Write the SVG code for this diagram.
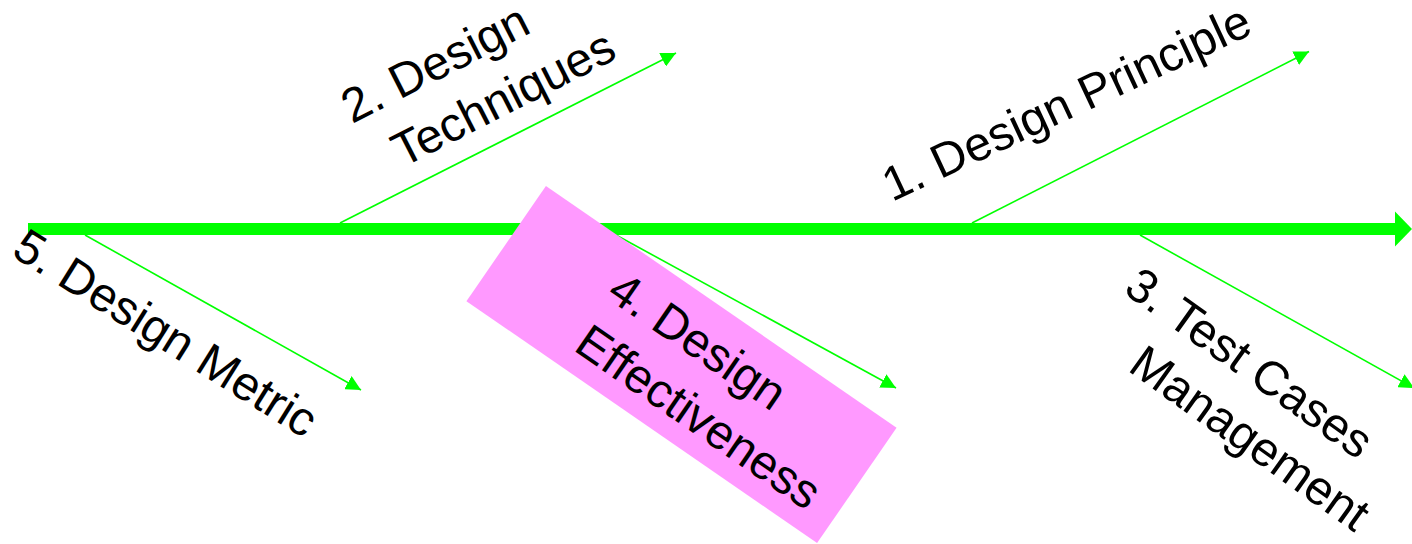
<svg xmlns="http://www.w3.org/2000/svg" width="1412" height="544" viewBox="0 0 1412 544">
  <defs>
    <marker id="head" viewBox="0 0 15 15" refX="15" refY="7.5" markerWidth="15" markerHeight="15" markerUnits="userSpaceOnUse" orient="auto">
      <path d="M0,0 L15,7.5 L0,15 z" fill="#00ff00"/>
    </marker>
    <style>
      .spine { stroke: #00ff00; stroke-width: 12; fill: none; }
      .bone { stroke: #00ff00; stroke-width: 1.6; fill: none; marker-end: url(#head); }
      .lbl { font-family: "Liberation Sans", Arial, sans-serif; font-size: 48px; fill: #000; }
      .box { fill: #ff99ff; }
    </style>
  </defs>
  <rect width="1412" height="544" fill="#ffffff"/>

  <!-- spine and branch arrows -->
  <g id="connectors">
    <line class="spine" x1="28" y1="229" x2="1396" y2="229"/>
    <polygon points="1395,211.5 1412,229 1395,246.5" fill="#00ff00"/>
    <line class="bone" x1="340" y1="223" x2="676" y2="53"/>
    <line class="bone" x1="972" y1="223" x2="1309" y2="51.5"/>
    <line class="bone" x1="85" y1="235" x2="361" y2="390"/>
    <line class="bone" x1="616" y1="235" x2="896" y2="388"/>
    <line class="bone" x1="1140" y1="235" x2="1414" y2="388"/>
  </g>

  <!-- 1. Design Principle -->
  <g id="principle">
    <text class="lbl" transform="translate(892,202) rotate(-25)">1. Design Principle</text>
  </g>

  <!-- 2. Design Techniques -->
  <g id="techniques" transform="translate(352,124) rotate(-27)">
    <text class="lbl" x="0" y="0">2. Design</text>
    <text class="lbl" x="25" y="62">Techniques</text>
  </g>

  <!-- 3. Test Cases Management -->
  <g id="testcases" transform="translate(1122,292) rotate(35.5)">
    <text class="lbl" x="0" y="0">3. Test Cases</text>
    <text class="lbl" x="49" y="61">Management</text>
  </g>

  <!-- 4. Design Effectiveness (highlighted) -->
  <g id="effectiveness">
    <rect class="box" x="-213" y="-70" width="426" height="140" transform="translate(681.5,364.5) rotate(34.6)"/>
    <g transform="translate(612,292) rotate(34.6)">
      <text class="lbl" x="-3" y="8">4. Design</text>
      <text class="lbl" x="0" y="70">Effectiveness</text>
    </g>
  </g>

  <!-- 5. Design Metric -->
  <g id="metric">
    <text class="lbl" transform="translate(10,255) rotate(32)">5. Design Metric</text>
  </g>
</svg>
